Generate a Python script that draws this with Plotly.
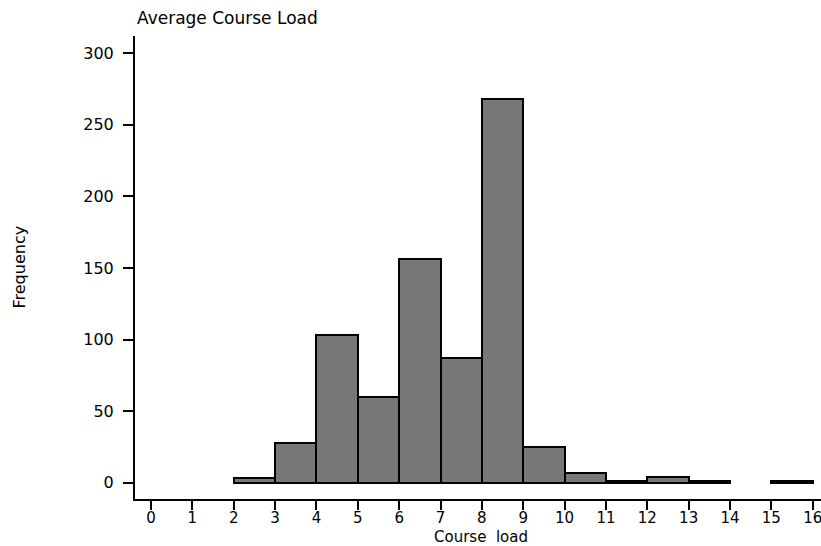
import plotly.graph_objects as go

# Histogram data (bin edges and frequencies)
bin_left = [2, 3, 4, 5, 6, 7, 8, 9, 10, 11, 12, 13, 15]
freq = [3, 28, 103, 60, 156, 87, 268, 25, 7, 1, 4, 1, 1]
bin_width = 1

x_ticks = list(range(0, 17))
y_ticks = [0, 50, 100, 150, 200, 250, 300]

title_text = "Average Course Load"
x_title = "Course  load"
y_title = "Frequency"

W, H = 821, 546
L, R, T, B = 135, 0, 36, 47
FONT = "DejaVu Sans"

centers = [b + bin_width / 2 for b in bin_left]

fig = go.Figure()
fig.add_trace(go.Bar(
    x=centers, y=freq, width=[bin_width] * len(freq),
    marker=dict(color="#777777", line=dict(color="black", width=2)),
    showlegend=False, hoverinfo="skip",
))

fig.update_layout(
    width=W, height=H,
    margin=dict(l=L, r=R, t=T, b=B, pad=0),
    paper_bgcolor="white", plot_bgcolor="white",
    font=dict(family=FONT, size=16, color="black"),
    bargap=0,
    xaxis=dict(
        range=[-0.387, 16.2], tickvals=x_ticks, ticktext=[str(v) for v in x_ticks],
        showgrid=False, zeroline=False, showline=True, linecolor="black", linewidth=2,
        ticks="outside", ticklen=9, tickwidth=2, tickcolor="black",
        tickfont=dict(family=FONT, size=15), automargin=False,
        ticklabeloverflow="allow", ticklabelstandoff=-5,
    ),
    yaxis=dict(
        range=[-11.4, 312.1], tickvals=y_ticks, ticktext=[str(v) for v in y_ticks],
        showgrid=False, zeroline=False, showline=True, linecolor="black", linewidth=2,
        ticks="outside", ticklen=10, tickwidth=2, tickcolor="black",
        tickfont=dict(family=FONT, size=16), automargin=False, ticklabelstandoff=6,
    ),
    annotations=[
        dict(text=title_text, xref="paper", yref="paper", x=0, y=1, xanchor="left",
             yanchor="bottom", yshift=6, showarrow=False, font=dict(family=FONT, size=17)),
        dict(text=y_title, xref="paper", yref="paper", x=(19 - L) / (W - L - R), y=0.5,
             xanchor="center", yanchor="middle", textangle=-90, showarrow=False,
             font=dict(family=FONT, size=16)),
        dict(text=x_title, xref="paper", yref="paper", x=(481.5 - L) / (W - L - R),
             y=-(537 - (H - B)) / (H - T - B), xanchor="center", yanchor="middle",
             showarrow=False, borderpad=0, font=dict(family=FONT, size=15)),
    ],
)

fig.write_html("out.html")
